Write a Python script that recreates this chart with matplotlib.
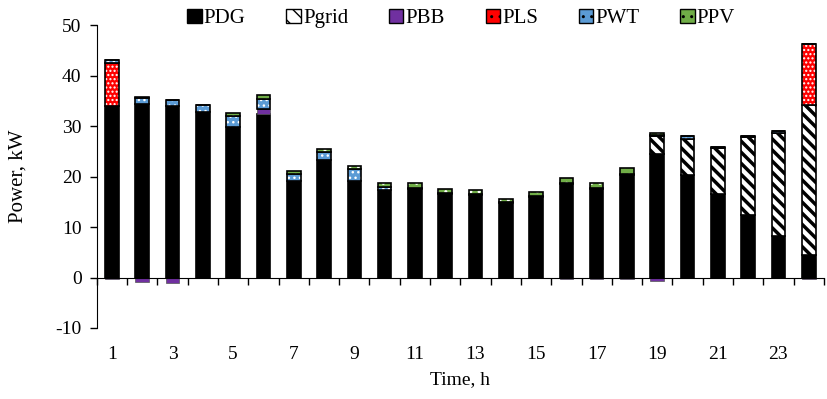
import matplotlib.pyplot as plt
import numpy as np

hours = np.arange(1, 25)
PDG = [34.0, 34.3, 34.0, 32.8, 29.8, 32.4, 19.1, 23.3, 19.1, 17.4, 17.6, 16.6,
       16.4, 14.8, 15.9, 18.5, 17.6, 20.4, 24.5, 20.3, 16.5, 12.3, 8.3, 4.4]
Pgrid = [0, 0, 0, 0, 0, 0, 0, 0, 0, 0, 0, 0,
         0, 0, 0, 0, 0, 0, 3.6, 7.2, 9.2, 15.5, 20.3, 29.8]
PBB = [-0.3, -0.8, -1.0, 0, 0, 1.0, 0, 0, 0, 0, 0, 0,
       0, 0, 0, -0.2, -0.2, -0.2, -0.6, 0, 0, 0, 0, -0.2]
PLS = [8.5, 0, 0, 0, 0, 0, 0, 0, 0, 0, 0, 0,
       0, 0, 0, 0, 0, 0, 0, 0, 0, 0, 0, 12.0]
PWT = [0.6, 1.3, 1.2, 1.3, 2.2, 2.0, 1.4, 1.5, 2.4, 0.5, 0.2, 0.1,
       0.1, 0.1, 0.2, 0.3, 0.2, 0.1, 0.2, 0.5, 0.1, 0.2, 0.4, 0]
PPV = [0, 0.1, 0, 0, 0.5, 0.8, 0.7, 0.7, 0.5, 0.8, 0.9, 0.8,
       0.8, 0.6, 0.8, 1.0, 0.9, 1.1, 0.4, 0.1, 0, 0.1, 0.1, 0]

plt.rcParams['font.family'] = ['Liberation Serif', 'DejaVu Serif']
plt.rcParams['axes.unicode_minus'] = False
plt.rcParams['hatch.linewidth'] = 1.0

series = [
    ("PDG", PDG, "black", None),
    ("Pgrid", Pgrid, "white", "\\\\\\"),
    ("PBB", PBB, "#7030A0", None),
    ("PLS", PLS, "#FF0000", "...."),
    ("PWT", PWT, "#5B9BD5", "..."),
    ("PPV", PPV, "#70AD47", ".."),
]

fig = plt.figure(figsize=(8.28, 3.99), dpi=100)
ax = fig.add_axes([0.117, 0.178, 0.878, 0.759])

w = 0.45
pos = np.zeros(24)
neg = np.zeros(24)
handles = []
for name, vals, color, hatch in series:
    vals = np.array(vals, dtype=float)
    bottom = np.where(vals >= 0, pos, neg)
    if name == "Pgrid":
        with plt.rc_context({'hatch.linewidth': 2.5}):
            b = ax.bar(hours, vals, w, bottom=bottom, color="white",
                       edgecolor="black", hatch=hatch, linewidth=1.2)
            for p in b:
                if hasattr(p, "set_hatch_linewidth"):
                    p.set_hatch_linewidth(2.5)
        h = plt.Rectangle((0, 0), 1, 1, facecolor="white", edgecolor="black",
                          hatch="\\\\", linewidth=1.0)
    elif hatch:
        # coloured face with white dots, then a black outline on top
        ax.bar(hours, vals, w, bottom=bottom, color=color,
               edgecolor="white", hatch=hatch, linewidth=0)
        ax.bar(hours, vals, w, bottom=bottom, fill=False,
               edgecolor="black", linewidth=1.2)
        h = plt.Rectangle((0, 0), 1, 1, facecolor=color, edgecolor="white",
                          hatch=hatch[:2], linewidth=0)
    else:
        h = ax.bar(hours, vals, w, bottom=bottom, color=color,
                   edgecolor="black" if name == "PDG" else "#555555",
                   linewidth=1.2 if name == "PDG" else 0.5)
    handles.append(h)
    pos = np.where(vals >= 0, pos + vals, pos)
    neg = np.where(vals < 0, neg + vals, neg)

ax.set_xlim(0.5, 24.5)
ax.set_ylim(-10, 50)
ax.set_yticks(range(-10, 51, 10))
ax.spines['top'].set_visible(False)
ax.spines['right'].set_visible(False)
ax.spines['bottom'].set_position(('data', 0))
ax.spines['left'].set_bounds(-10, 50)
ax.set_xticks(np.arange(0.5, 25, 1))
ax.set_xticklabels([])
ax.tick_params(axis='x', direction='out', length=5, width=1)
ax.tick_params(axis='y', direction='out', length=5, width=1, labelsize=14,
               pad=6)

sec = ax.secondary_xaxis(0)
sec.set_xticks(hours[::2])
sec.set_xticklabels([str(h) for h in hours[::2]])
sec.spines['bottom'].set_visible(False)
sec.tick_params(length=0, pad=13, labelsize=14)
sec.set_xlabel("Time, h", fontsize=14, labelpad=6)

ax.set_ylabel("Power, kW", fontsize=15, labelpad=20)

leg = fig.legend(handles, [s[0] for s in series], loc='upper center',
                 bbox_to_anchor=(0.557, 1.025), ncol=6, frameon=False,
                 fontsize=15, handlelength=0.7, handleheight=0.7,
                 handletextpad=0.1, columnspacing=1.95)
for lh in leg.legend_handles:
    lh.set_edgecolor("black")
    lh.set_linewidth(1.0)

fig.savefig("out.png", dpi=100)
